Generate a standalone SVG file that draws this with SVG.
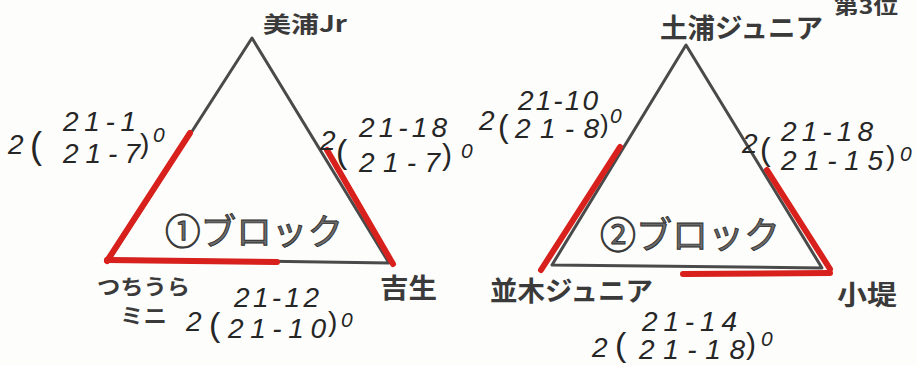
<svg xmlns="http://www.w3.org/2000/svg" width="917" height="365" viewBox="0 0 917 365">
<style>
.bg{fill:#fdfdfb}
.edge{stroke:#4a4a4a;stroke-width:3;fill:none;stroke-linecap:round;stroke-linejoin:round}
.win{stroke:#d8201c;stroke-width:6;fill:none;stroke-linecap:round}
.team{font-family:"Noto Sans CJK JP","Noto Sans",sans-serif;font-weight:700;fill:#3a3a3a}
.block{font-family:"Noto Sans CJK JP","Noto Sans",sans-serif;font-weight:400;fill:#6a6a6a;stroke:#2e2e2e;stroke-width:0.9}
.sc{font-family:"Liberation Sans","DejaVu Sans",sans-serif;font-style:italic;fill:#262626;font-size:28px}
.par{font-family:"Liberation Sans","DejaVu Sans",sans-serif;fill:#262626}
.zero{font-family:"Liberation Sans","DejaVu Sans",sans-serif;font-style:italic;fill:#262626;font-size:21px}
</style>
<rect class="bg" x="0" y="0" width="917" height="365"/>

<g id="connectors">
  <!-- block 1 -->
  <polygon class="edge" points="252,38 110,259 389,263"/>
  <line class="win" x1="190" y1="133" x2="107" y2="261"/>
  <line class="win" x1="107" y1="260" x2="277" y2="262"/>
  <line class="win" x1="327" y1="150" x2="393" y2="264"/>
  <!-- block 2 -->
  <polygon class="edge" points="686,45 552,265 822,268"/>
  <line class="win" x1="620" y1="147" x2="541" y2="270"/>
  <line class="win" x1="683" y1="274" x2="830" y2="273"/>
  <line class="win" x1="767" y1="170" x2="830" y2="269"/>
</g>

<!-- block 1 nodes -->
<g id="node-mihojr"><text class="team" x="263" y="32" font-size="22" textLength="84" lengthAdjust="spacingAndGlyphs">美浦Jr</text></g>
<g id="node-tsuchiura-mini">
  <text class="team" x="97" y="294" font-size="21" textLength="93" lengthAdjust="spacingAndGlyphs">つちうら</text>
  <text class="team" x="120" y="323" font-size="21" textLength="47" lengthAdjust="spacingAndGlyphs">ミニ</text>
</g>
<g id="node-yoshiu"><text class="team" x="380" y="298" font-size="27" textLength="57" lengthAdjust="spacingAndGlyphs">吉生</text></g>
<g id="block1-title"><text class="block" x="165" y="245" font-size="36" textLength="178" lengthAdjust="spacingAndGlyphs">①ブロック</text></g>

<!-- block 2 nodes -->
<g id="node-tsuchiura-jr"><text class="team" x="660" y="38" font-size="27" textLength="163" lengthAdjust="spacingAndGlyphs">土浦ジュニア</text></g>
<g id="node-3rd"><text class="team" x="834" y="14" font-size="20" textLength="64" lengthAdjust="spacingAndGlyphs">第3位</text></g>
<g id="node-namiki-jr"><text class="team" x="490" y="301" font-size="27" textLength="163" lengthAdjust="spacingAndGlyphs">並木ジュニア</text></g>
<g id="node-kotsutsumi"><text class="team" x="837" y="305" font-size="27" textLength="60" lengthAdjust="spacingAndGlyphs">小堤</text></g>
<g id="block2-title"><text class="block" x="600" y="249" font-size="37" textLength="180" lengthAdjust="spacingAndGlyphs">②ブロック</text></g>

<!-- scores -->
<g id="score-b1-left">
  <text class="sc" x="8" y="154" font-size="24">2</text>
  <text class="par" x="30" y="158" font-size="36">(</text>
  <text class="sc" x="63" y="131" textLength="73" lengthAdjust="spacing">21-1</text>
  <text class="sc" x="63" y="163" textLength="77" lengthAdjust="spacing">21-7</text>
  <text class="par" x="140" y="153" font-size="28">)</text>
  <text class="zero" x="153" y="142">0</text>
</g>
<g id="score-b1-right">
  <text class="sc" x="320" y="150" font-size="24">2</text>
  <text class="par" x="336" y="163" font-size="34">(</text>
  <text class="sc" x="359" y="137" textLength="88" lengthAdjust="spacing">21-18</text>
  <text class="sc" x="359" y="172" textLength="81" lengthAdjust="spacing">21-7</text>
  <text class="par" x="442" y="165" font-size="30">)</text>
  <text class="zero" x="461" y="158">0</text>
</g>
<g id="score-b1-bottom">
  <text class="sc" x="186" y="331" font-size="24">2</text>
  <text class="par" x="209" y="336" font-size="34">(</text>
  <text class="sc" x="234" y="307" textLength="85" lengthAdjust="spacing">21-12</text>
  <text class="sc" x="228" y="338" textLength="98" lengthAdjust="spacing">21-10</text>
  <text class="par" x="328" y="331" font-size="28">)</text>
  <text class="zero" x="341" y="327">0</text>
</g>
<g id="score-b2-left">
  <text class="sc" x="479" y="130" font-size="24">2</text>
  <text class="par" x="498" y="137" font-size="32">(</text>
  <text class="sc" x="518" y="110" textLength="80" lengthAdjust="spacing" font-size="26">21-10</text>
  <text class="sc" x="515" y="138" textLength="84" lengthAdjust="spacing" font-size="26">21-8</text>
  <text class="par" x="600" y="133" font-size="26">)</text>
  <text class="zero" x="610" y="123">0</text>
</g>
<g id="score-b2-right">
  <text class="sc" x="742" y="153" font-size="24">2</text>
  <text class="par" x="760" y="160" font-size="32">(</text>
  <text class="sc" x="781" y="141" textLength="92" lengthAdjust="spacing">21-18</text>
  <text class="sc" x="781" y="170" textLength="102" lengthAdjust="spacing">21-15</text>
  <text class="par" x="886" y="165" font-size="28">)</text>
  <text class="zero" x="900" y="161">0</text>
</g>
<g id="score-b2-bottom">
  <text class="sc" x="592" y="357" font-size="26">2</text>
  <text class="par" x="615" y="356" font-size="34">(</text>
  <text class="sc" x="642" y="331" textLength="95" lengthAdjust="spacing" font-size="25">21-14</text>
  <text class="sc" x="639" y="359" textLength="106" lengthAdjust="spacing" font-size="25">21-18</text>
  <text class="par" x="746" y="354" font-size="30">)</text>
  <text class="zero" x="761" y="346">0</text>
</g>
</svg>
